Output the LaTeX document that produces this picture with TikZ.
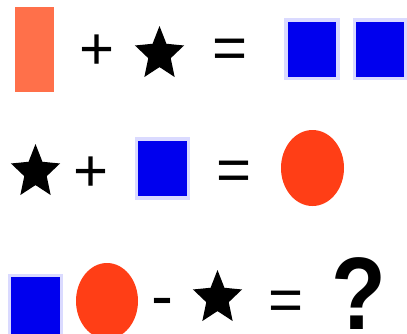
\documentclass[tikz,border=0pt]{standalone}
\usepackage{fontspec}
\setsansfont{Liberation Sans}
\definecolor{barorange}{RGB}{255,112,74}
\definecolor{dotred}{RGB}{255,62,22}
\definecolor{boxblue}{RGB}{0,0,238}
\definecolor{boxhalo}{RGB}{218,218,255}
\begin{document}
\begin{tikzpicture}[
  x=1pt, y=-1pt,
  font=\sffamily,
  bluebox/.style={fill=boxblue, draw=boxhalo, line width=3.5pt},
  reddot/.style={fill=dotred},
  sign/.style={inner sep=0pt, anchor=base, font=\sffamily\fontsize{60}{60}\selectfont},
  minussign/.style={sign, font=\sffamily\fontsize{66}{66}\selectfont},
  query/.style={inner sep=0pt, anchor=base, font=\sffamily\bfseries\fontsize{103}{103}\selectfont},
  blackstar/.pic={
    \fill[black] (0,-28.2)
      \foreach \k in {0,...,4} {
        -- ({11.8*cos(-54+72*\k)},{12.9*sin(-54+72*\k)})
        -- ({25.8*cos(-18+72*\k)},{28.2*sin(-18+72*\k)})
      } -- cycle;
  }
]
\useasboundingbox (0,0) rectangle (407,333);
\clip (0,0) rectangle (407,333);
\fill[white] (0,0) rectangle (407,333);

% first line
\fill[barorange] (15,7) rectangle (54,92);
\node[sign] (plusone) at (97.5,69) {+};
\pic at (159.5,54.2) {blackstar};
\node[sign] (eqone) at (230.5,68.5) {=};
\draw[bluebox] (286,20) rectangle (338,78.5);
\draw[bluebox] (354.5,20) rectangle (405.8,78.5);

% second line
\pic at (35.5,172.2) {blackstar};
\node[sign] (plustwo) at (91,191) {+};
\draw[bluebox] (136.5,139) rectangle (188.5,198);
\node[sign] (eqtwo) at (234,190) {=};
\fill[reddot] (312.5,168) ellipse [x radius=31.5, y radius=38];

% third line
\draw[bluebox] (9.5,275.5) rectangle (61.5,345);
\fill[reddot] (107,301) ellipse [x radius=31, y radius=38];
\node[minussign] (minusthree) at (162.5,318.5) {-};
\pic at (217.5,298.2) {blackstar};
\node[sign] (eqthree) at (286,320) {=};
\node[query] (ask) at (359,329) {\scalebox{0.87}[1]{?}};
\end{tikzpicture}
\end{document}
